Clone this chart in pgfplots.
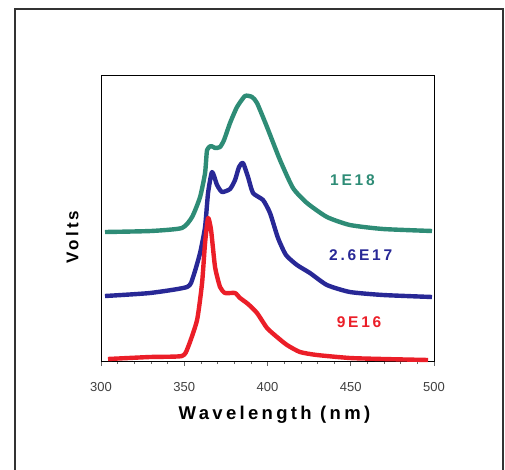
\documentclass[border=0pt]{standalone}
\usepackage{pgfplots}
\pgfplotsset{compat=1.18}
\usepackage{fontspec}
\setmainfont{Liberation Sans}
\newfontfamily\spaced[LetterSpace=18]{Liberation Sans}
\definecolor{cteal}{RGB}{46,140,118}
\definecolor{cblue}{RGB}{40,40,150}
\definecolor{cred}{RGB}{235,30,40}
\begin{document}
\begin{tikzpicture}[x=1pt,y=1pt]
\useasboundingbox (0,0) rectangle (505,469);
\draw[line width=1.6pt, black!80] (15,-5) -- (15,460) -- (503,460) -- (503,-5);
\begin{axis}[
    at={(101pt,108pt)}, anchor=origin,
    scale only axis,
    width=333pt, height=286pt,
    xmin=300, xmax=500,
    ymin=0, ymax=286,
    xtick={300,350,400,450,500},
    minor xtick={310,320,...,490},
    ytick=\empty,
    axis line style={line width=0.8pt},
    tick align=outside,
    xtick pos=bottom,
    major tick length=5pt, minor tick length=3pt,
    tick style={black!60, line width=0.6pt},
    /pgf/number format/assume math mode=true,
    xticklabel style={font=\fontsize{13}{13}\selectfont, text=black!75, yshift=-13pt},
    xlabel={\spaced\bfseries Wavelength (nm)},
    xlabel style={font=\fontsize{18.5}{18.5}\selectfont, yshift=-7pt, xshift=7pt},
    ylabel={\spaced\bfseries Volts},
    ylabel style={font=\fontsize{17}{17}\selectfont, yshift=14pt, xshift=-19pt},
    clip=false,
]
\addplot[cteal, line width=4.4pt, line join=round, smooth, tension=0.35] coordinates {
 (302.4,129) (330,130) (348.6,133) (354.7,144) (359.5,164) (362.5,188)
 (363.7,211) (366.1,215) (368.5,213) (371.5,214) (373.9,221) (377.5,238)
 (381.7,254) (386.5,265) (390.7,264) (393.7,258) (399.7,234) (407.5,201)
 (415.3,173) (423.7,158) (435.7,144) (449.5,136) (469.4,132) (498.8,130)
};
\addplot[cblue, line width=4.4pt, line join=round, smooth, tension=0.35] coordinates {
 (302.4,65) (329.4,68) (351.7,74) (355.3,84) (359.5,108) (362.5,134)
 (364.3,168) (366.7,189) (369.7,176) (372.7,169) (377.5,172) (380.5,181)
 (382.9,194) (385.3,198) (388.3,184) (391.3,168) (397.3,161) (401.5,148)
 (406.3,123) (411.1,106) (417.7,96) (425.5,88) (435.7,76) (449.5,69)
 (469.4,66) (498.8,64)
};
\addplot[cred, line width=4.4pt, line join=round, smooth, tension=0.35] coordinates {
 (304.2,2) (329.4,4) (348.6,5) (352.3,14) (357.7,41) (360.7,78)
 (362.5,118) (364.3,143) (366.1,131) (368.5,94) (371.5,74) (374.5,68)
 (380.5,68) (383.5,63) (388.3,57) (393.7,48) (399.7,33) (405.7,24)
 (411.7,16) (419.5,9) (429.7,6) (449.5,3) (469.4,2) (496.4,1)
};
\node[text=cteal, font=\spaced\bfseries\fontsize{15.5}{15.5}\selectfont] at (axis cs:451,181) {1E18};
\node[text=cblue, font=\spaced\bfseries\fontsize{15.5}{15.5}\selectfont] at (axis cs:456,106) {2.6E17};
\node[text=cred, font=\spaced\bfseries\fontsize{15.5}{15.5}\selectfont] at (axis cs:455,39) {9E16};
\end{axis}
\end{tikzpicture}
\end{document}
